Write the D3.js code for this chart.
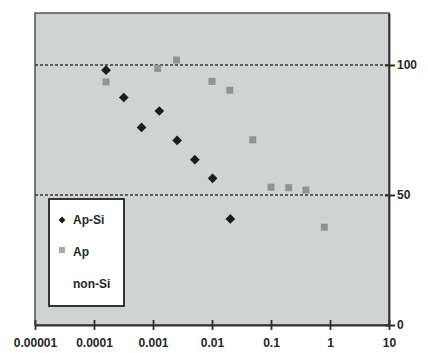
<!doctype html>
<html>
<head>
<meta charset="utf-8">
<script src="https://d3js.org/d3.v7.min.js"></script>
<style>
  body { margin: 0; background: #fff; }
  text { font-family: "Liberation Sans", Arial, sans-serif; font-weight: bold; }
</style>
</head>
<body>
<svg id="chart" width="428" height="353"></svg>
<script>
// Ap-Si series (black diamonds)
var apSiX = [0.00016, 0.00032, 0.00064, 0.00128, 0.00256, 0.00512, 0.01024, 0.02048];
var apSiY = [98, 87.5, 76, 82.3, 71, 63.6, 56.4, 40.8];
// Ap series (gray squares)
var apX = [0.00016, 0.0012, 0.0025, 0.01, 0.02, 0.049, 0.1, 0.2, 0.39, 0.8];
var apY = [93.5, 98.7, 101.9, 93.7, 90.3, 71.2, 53, 52.8, 51.9, 37.6];

var xTicks = [0.00001, 0.0001, 0.001, 0.01, 0.1, 1, 10];
var xTickLabels = ["0.00001", "0.0001", "0.001", "0.01", "0.1", "1", "10"];
var yTicks = [0, 50, 100];
var gridLines = [50, 100];
var legendNames = ["Ap-Si", "Ap", "non-Si"];

var margin = {top: 13, right: 39, bottom: 28, left: 35},
    width = 428, height = 353;

var svg = d3.select("#chart");

var x = d3.scaleLog()
    .domain([0.00001, 10])
    .range([margin.left, width - margin.right]);

var y = d3.scaleLinear()
    .domain([0, 120])
    .range([height - margin.bottom, margin.top]);

// plot background
svg.append("rect")
    .attr("x", x(0.00001))
    .attr("y", y(120))
    .attr("width", x(10) - x(0.00001))
    .attr("height", y(0) - y(120))
    .attr("fill", "#d1d3d3")
    .attr("stroke", "#2a302e")
    .attr("stroke-width", 1.2);

// dotted grid lines
svg.append("g").selectAll("line")
    .data(gridLines)
    .enter().append("line")
    .attr("x1", x(0.00001))
    .attr("x2", x(10))
    .attr("y1", d => y(d))
    .attr("y2", d => y(d))
    .attr("stroke", "#343938")
    .attr("stroke-width", 1.3)
    .attr("stroke-dasharray", "3,2");

// bottom axis
var xAxis = svg.append("g")
    .attr("transform", `translate(0, ${y(0)})`)
    .call(d3.axisBottom(x).tickValues(xTicks)
        .tickFormat((d, i) => xTickLabels[i])
        .tickSize(5).tickSizeOuter(0));
xAxis.select(".domain").attr("stroke", "#2a302e").attr("stroke-width", 1.8);
xAxis.selectAll(".tick line").attr("stroke", "#2a302e").attr("stroke-width", 1.8)
    .attr("y1", -5);
xAxis.selectAll(".tick text").attr("font-size", 12).attr("dy", "1.2em").attr("fill", "#262626");

// right axis
var yAxis = svg.append("g")
    .attr("transform", `translate(${x(10)}, 0)`)
    .call(d3.axisRight(y).tickValues(yTicks).tickSize(6).tickSizeOuter(0));
yAxis.select(".domain").attr("stroke", "#2a302e").attr("stroke-width", 1.8);
yAxis.selectAll(".tick line").attr("stroke", "#2a302e").attr("stroke-width", 2)
    .attr("x1", -4);
yAxis.selectAll(".tick text").attr("font-size", 12).attr("x", 8).attr("fill", "#262626");

// Ap squares
svg.append("g").selectAll("rect")
    .data(apX)
    .enter().append("rect")
    .attr("x", (d, i) => x(d) - 3.5)
    .attr("y", (d, i) => y(apY[i]) - 3.5)
    .attr("width", 7)
    .attr("height", 7)
    .attr("fill", "#8f9392");

// Ap-Si diamonds
svg.append("g").selectAll("path")
    .data(apSiX)
    .enter().append("path")
    .attr("d", d3.symbol().type(d3.symbolDiamond2).size(60))
    .attr("transform", (d, i) => `translate(${x(d)}, ${y(apSiY[i])})`)
    .attr("fill", "#1b1d1d");

// legend
var legend = svg.append("g").attr("transform", "translate(49, 199)");
legend.append("rect")
    .attr("width", 75)
    .attr("height", 107)
    .attr("fill", "#fff")
    .attr("stroke", "#1f2322")
    .attr("stroke-width", 1.8);
legend.append("path")
    .attr("d", d3.symbol().type(d3.symbolDiamond2).size(30))
    .attr("transform", "translate(13, 21)")
    .attr("fill", "#1b1d1d");
legend.append("rect")
    .attr("x", 10).attr("y", 48)
    .attr("width", 6).attr("height", 6)
    .attr("fill", "#a5a9a8");
legend.selectAll("text")
    .data(legendNames)
    .enter().append("text")
    .attr("x", 24)
    .attr("y", (d, i) => 25 + i * 32)
    .attr("font-size", 12)
    .attr("fill", "#262626")
    .text(d => d);
</script>
</body>
</html>
